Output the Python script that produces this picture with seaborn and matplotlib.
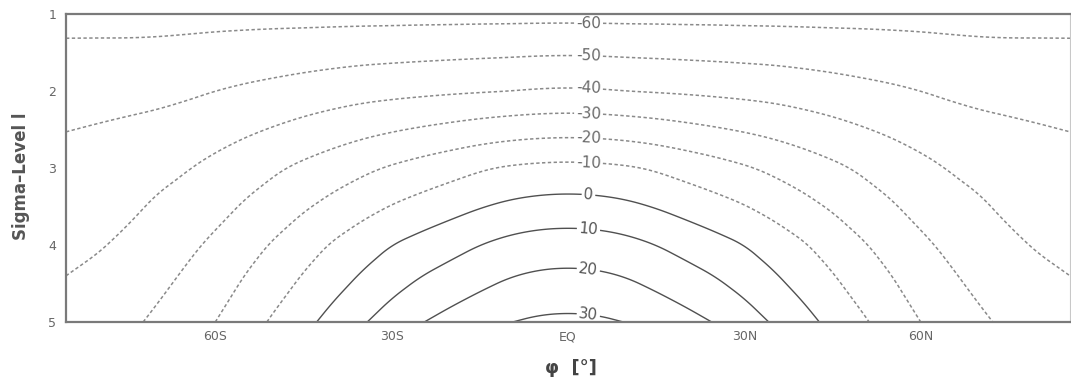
import numpy as np
import matplotlib
matplotlib.use("Agg")
import matplotlib.pyplot as plt
from matplotlib.path import Path
import seaborn as sns

# Latitude grid (deg, negative = south) and sigma-level index
lats = [-85.4, -80, -75, -70, -65, -60, -55, -50, -45, -40, -35, -30, -25, -20,
        -15, -10, -5, 0, 5, 10, 15, 20, 25, 30, 35, 40, 45, 50, 55, 60, 65, 70,
        75, 80, 85.4]
sigma_levels = [1, 2, 3, 4, 5]

# Zonal-mean temperature (deg C) on each sigma level, south -> north
temp_l1 = [-63.4, -63.3, -63.3, -63.2, -63.1, -63.0, -63.0, -63.0, -63.1, -63.1,
           -63.1, -63.1, -63.0, -63.0, -62.9, -62.9, -62.8, -62.8, -62.8, -62.9,
           -62.9, -63.0, -63.0, -63.1, -63.1, -63.1, -63.1, -63.0, -63.0, -63.0,
           -63.1, -63.2, -63.3, -63.3, -63.4]
temp_l2 = [-52.6, -52.7, -52.7, -52.4, -51.4, -50.0, -48.6, -47.3, -45.9, -44.6,
           -43.4, -42.6, -41.9, -41.2, -40.6, -40.0, -39.3, -39.0, -39.3, -40.0,
           -40.6, -41.2, -41.9, -42.6, -43.4, -44.6, -45.9, -47.3, -48.6, -50.0,
           -51.4, -52.4, -52.7, -52.7, -52.6]
temp_l3 = [-47.7, -46.3, -44.5, -42.5, -40.5, -37.5, -34.4, -31.3, -28.1, -25.0,
           -21.9, -19.0, -16.3, -13.7, -11.0, -9.0, -7.9, -7.5, -7.9, -9.0,
           -11.0, -13.7, -16.3, -19.0, -21.9, -25.0, -28.1, -31.3, -34.4, -37.5,
           -40.5, -42.5, -44.5, -46.3, -47.7]
temp_l4 = [-42.0, -40.7, -38.5, -35.2, -32.0, -28.2, -23.6, -19.0, -14.0, -9.1,
           -4.5, 0.0, 3.4, 6.7, 10.0, 12.8, 14.5, 15.0, 14.5, 12.8,
           10.0, 6.7, 3.4, 0.0, -4.5, -9.1, -14.0, -19.0, -23.6, -28.2,
           -32.0, -35.2, -38.5, -40.7, -42.0]
temp_l5 = [-37.0, -34.3, -31.8, -28.5, -24.3, -20.0, -14.3, -8.6, -2.6, 3.2,
           9.1, 14.4, 19.6, 23.2, 26.5, 29.8, 31.5, 32.0, 31.5, 29.8,
           26.5, 23.2, 19.6, 14.4, 9.1, 3.2, -2.6, -8.6, -14.3, -20.0,
           -24.3, -28.5, -31.8, -34.3, -37.0]

neg_levels = [-60, -50, -40, -30, -20, -10]
pos_levels = [0, 10, 20, 30]

xtick_pos = [-60, -30, 0, 30, 60]
xtick_labels = ["60S", "30S", "EQ", "30N", "60N"]

FIG_W, FIG_H = 1071, 381
AX_BOX = (66, 59, 1004, 308)          # left, bottom, width, height in pixels
XLIM = (-85.4, 85.4)
YLIM = (5, 1)


def smooth_line(verts, sx, sy, step=2.0, half=7):
    """Moving-average smoothing of a polyline along its arc length.

    sx, sy convert data units to pixels so the smoothing acts evenly on
    screen; both end points stay where they are.
    """
    p = np.asarray(verts, dtype=float) * [sx, sy]
    seg = np.hypot(*np.diff(p, axis=0).T)
    s = np.concatenate([[0.0], np.cumsum(seg)])
    if s[-1] < 4 * step:
        return np.asarray(verts, dtype=float)
    n = int(s[-1] / step) + 1
    t = np.linspace(0.0, s[-1], n)
    x = np.interp(t, s, p[:, 0])
    y = np.interp(t, s, p[:, 1])
    cx = np.concatenate([[0.0], np.cumsum(x)])
    cy = np.concatenate([[0.0], np.cumsum(y)])
    xs = np.empty(n)
    ys = np.empty(n)
    for i in range(n):
        h = min(half, i, n - 1 - i)
        a, b = i - h, i + h + 1
        xs[i] = (cx[b] - cx[a]) / (b - a)
        ys[i] = (cy[b] - cy[a]) / (b - a)
    return np.column_stack([xs / sx, ys / sy])


def smooth_contours(cs):
    """Give the contour lines a curved, interpolated look (like GrADS 'cterp')."""
    sx = AX_BOX[2] / (XLIM[1] - XLIM[0])
    sy = AX_BOX[3] / abs(YLIM[1] - YLIM[0])
    new_paths = []
    for path in cs.get_paths():
        verts, codes = path.vertices, path.codes
        if len(verts) == 0:
            new_paths.append(path)
            continue
        starts = [0] if codes is None else list(np.where(codes == Path.MOVETO)[0])
        starts.append(len(verts))
        all_v, all_c = [], []
        for s, e in zip(starts[:-1], starts[1:]):
            line = smooth_line(verts[s:e], sx, sy)
            all_v.append(line)
            c = np.full(len(line), Path.LINETO, dtype=Path.code_type)
            c[0] = Path.MOVETO
            all_c.append(c)
        new_paths.append(Path(np.concatenate(all_v), np.concatenate(all_c)))
    cs._paths = new_paths


sns.set_theme(style="white")
plt.rcParams["font.family"] = ["DejaVu Sans"]

temp = np.array([temp_l1, temp_l2, temp_l3, temp_l4, temp_l5])

fig = plt.figure(figsize=(FIG_W / 100, FIG_H / 100), dpi=100)
ax = fig.add_axes([AX_BOX[0] / FIG_W, AX_BOX[1] / FIG_H,
                   AX_BOX[2] / FIG_W, AX_BOX[3] / FIG_H])

cs_neg = ax.contour(lats, sigma_levels, temp, levels=neg_levels,
                    colors="#8a8a8a", linewidths=1.1,
                    linestyles=[(0, (2.2, 1.6))])
cs_pos = ax.contour(lats, sigma_levels, temp, levels=pos_levels,
                    colors="#505050", linewidths=1.0, linestyles="solid")
smooth_contours(cs_neg)
smooth_contours(cs_pos)

ax.set_xlim(*XLIM)
ax.set_ylim(*YLIM)

# contour labels stacked in a column just north of the equator
label_x = 3.5
neg_pos = [(label_x, 1.12), (label_x, 1.53), (label_x, 1.96),
           (label_x, 2.28), (label_x, 2.60), (label_x, 2.92)]
pos_pos = [(label_x, 3.33), (label_x, 3.78), (label_x, 4.29), (label_x, 4.88)]
fmt = lambda v: f"{int(round(v))}"
ax.clabel(cs_neg, fmt=fmt, manual=neg_pos, fontsize=11, colors="#6a6a6a",
          inline=True, inline_spacing=2)
ax.clabel(cs_pos, fmt=fmt, manual=pos_pos, fontsize=11, colors="#555555",
          inline=True, inline_spacing=2)

ax.set_xticks(xtick_pos)
ax.set_xticklabels(xtick_labels)
ax.set_yticks(sigma_levels)
ax.set_yticklabels([str(s) for s in sigma_levels])
ax.tick_params(axis="both", which="both", direction="out", length=3,
               width=1, color="#777777", labelcolor="#666666", labelsize=9,
               pad=4)
ax.tick_params(axis="x", pad=3)

for side in ["left", "bottom", "top"]:
    ax.spines[side].set_color("#7a7a7a")
    ax.spines[side].set_linewidth(1.6)
ax.spines["right"].set_color("#c8c8c8")
ax.spines["right"].set_linewidth(0.8)

ax.set_ylabel("Sigma\u2013Level l", fontsize=12, fontweight="bold",
              color="#555555")
ax.yaxis.set_label_coords(-0.036, 0.474)
ax.set_xlabel("\u03c6  [\u00b0]", fontsize=13, fontweight="bold",
              color="#444444")
ax.xaxis.set_label_coords(0.503, -0.12)

fig.savefig("out.png", dpi=100)
